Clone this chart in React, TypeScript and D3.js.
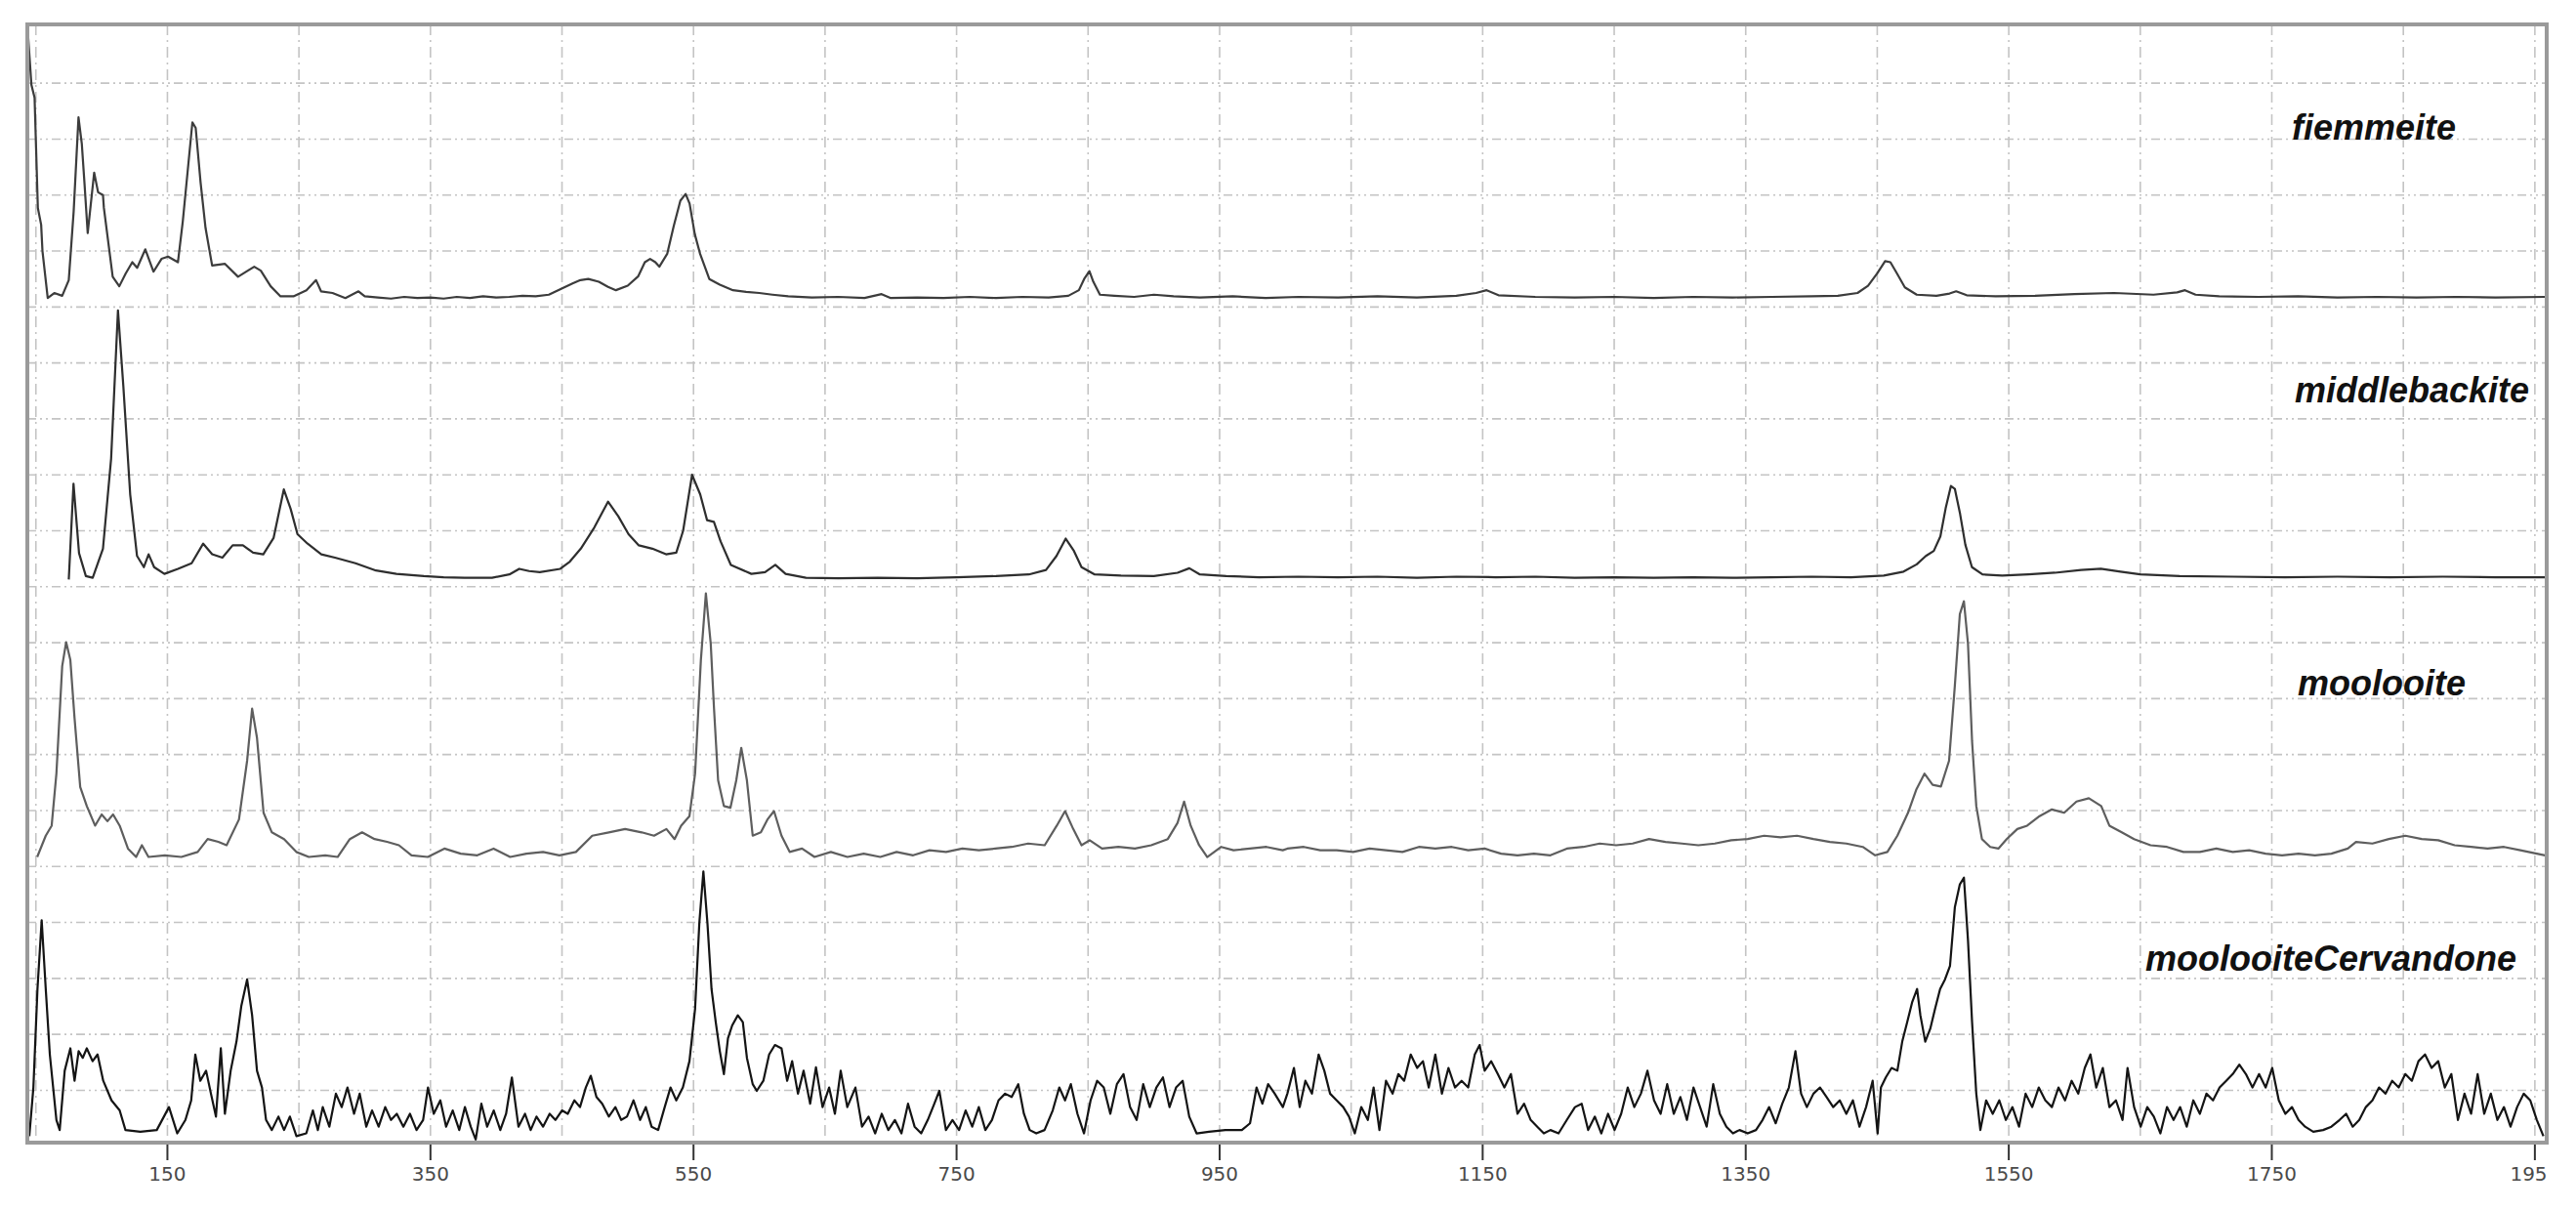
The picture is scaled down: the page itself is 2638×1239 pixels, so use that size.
import React from "react";
import * as d3 from "d3";

type Pt = [number, number];

const seriesNames = ["fiemmeite", "middlebackite", "moolooite", "moolooiteCervandone"];

const xGridValues = [50,150,250,350,450,550,650,750,850,950,1050,1150,1250,1350,1450,1550,1650,1750,1850,1950];
const xTickValues = [150,350,550,750,950,1150,1350,1550,1750,1950];
const xTickLabels = ["150","350","550","750","950","1150","1350","1550","1750","1950"];
const yGridValues = [1,2,3,4,5,6,7,8,9,10,11,12,13,14,15,16,17,18,19];

const fiemmeite: Pt[] = [
[44,19.87],[46.6,18.97],[49,18.74],[51.5,16.77],[54,16.47],[55,16.0],[59,15.16],[64,15.25],[70,15.2],[75,15.48],[78.7,16.7],[82.4,18.39],[84.9,17.92],[86.9,17.23],[89.4,16.32],[94.3,17.4],[97.3,17.05],[101,17.0],[101.7,16.77],[108.4,15.54],[113.4,15.37],[118.3,15.6],[123.3,15.8],[127,15.7],[133.2,16.03],[139.4,15.63],[145.5,15.86],[150.5,15.9],[158,15.8],[161.7,16.53],[169,18.3],[171.5,18.2],[175.2,17.23],[179,16.41],[184,15.74],[193.8,15.77],[203.7,15.54],[216,15.72],[221,15.65],[228.5,15.37],[236,15.19],[245.8,15.19],[255.7,15.3],[263,15.48],[266.8,15.28],[275.5,15.25],[285.3,15.16],[290.3,15.22],[295.3,15.28],[300,15.19],
[310,15.17],[320,15.15],[330,15.18],[340,15.16],[350,15.17],[360,15.15],[370,15.18],[380,15.16],[390,15.19],[400,15.17],[410,15.18],[420,15.2],[430,15.19],[440,15.22],[449,15.32],[458,15.42],[464,15.48],[470,15.5],[478,15.45],[485,15.36],[491,15.3],[500,15.38],[508,15.55],[513,15.8],[517,15.86],[521,15.8],[524,15.72],[530,15.95],[535,16.45],[540,16.9],[544,17.02],[547,16.85],[551,16.3],[555,15.95],[562,15.5],[570,15.4],[580,15.3],[590,15.27],[600,15.25],[610,15.22],[622,15.19],[640,15.17],[660,15.18],[680,15.16],[693,15.23],[700,15.16],[720,15.17],[740,15.16],[760,15.18],[780,15.16],[800,15.18],[820,15.17],[835,15.2],[843,15.3],[847,15.5],[851,15.64],[854,15.45],[859,15.22],[870,15.2],[885,15.18],[900,15.22],[915,15.19],[935,15.17],[960,15.19],[985,15.16],[1010,15.18],[1040,15.17],[1070,15.19],[1100,15.17],[1130,15.2],[1145,15.25],[1153,15.3],[1162,15.21],[1190,15.18],[1220,15.17],[1250,15.18],[1280,15.16],[1310,15.18],[1340,15.17],[1370,15.18],[1400,15.19],[1420,15.2],[1435,15.25],[1443,15.38],[1450,15.6],[1456,15.82],[1460,15.8],[1465,15.6],[1471,15.35],[1480,15.22],[1495,15.2],[1505,15.24],[1510,15.28],[1518,15.21],[1540,15.19],[1570,15.2],[1600,15.23],[1630,15.25],[1660,15.22],[1678,15.26],[1684,15.3],[1692,15.22],[1710,15.19],[1740,15.18],[1770,15.19],[1800,15.17],[1830,15.18],[1860,15.17],[1890,15.18],[1920,15.17],[1958,15.18]
];

const middlebackite: Pt[] = [
[75,10.13],[78.6,11.84],[82.8,10.6],[88,10.19],[93.2,10.16],[101,10.68],[107.2,12.29],[112.4,14.94],[116.5,13.58],[121.7,11.65],[126.9,10.55],[132.1,10.35],[135.7,10.58],[139.9,10.35],[147.7,10.23],[158,10.32],[168.4,10.42],[177.2,10.77],[184,10.58],[191.8,10.52],[199.6,10.74],[207.4,10.74],[215.1,10.61],[222.9,10.58],[230.7,10.87],[238.5,11.74],[243.7,11.39],[248.9,10.94],[256.6,10.77],[267,10.58],[277.4,10.52],[293,10.42],[308.6,10.29],[324.1,10.23],[344.9,10.19],[360,10.17],[376,10.16],[396.8,10.16],[410,10.22],[417.5,10.32],[425,10.28],[433.1,10.26],[448.7,10.32],[456,10.45],[464.3,10.68],[474.6,11.06],[485,11.52],[492.8,11.26],[500.6,10.94],[508.4,10.74],[518.7,10.68],[529.1,10.58],[536.9,10.61],[542.1,11.0],[548.9,12.0],[555.1,11.65],[560.3,11.19],[565.5,11.16],[570.6,10.81],[578.4,10.39],[594,10.23],[604.4,10.26],[612.2,10.39],[620,10.23],[635.5,10.16],[660,10.15],[690,10.16],[720,10.15],[750,10.17],[780,10.19],[805,10.22],[818,10.3],[826,10.55],[833,10.86],[839,10.65],[845,10.35],[855,10.22],[875,10.2],[900,10.19],[918,10.25],[927,10.33],[935,10.22],[955,10.19],[980,10.17],[1010,10.18],[1040,10.17],[1070,10.18],[1100,10.16],[1130,10.18],[1160,10.17],[1190,10.18],[1220,10.16],[1250,10.17],[1280,10.16],[1310,10.17],[1340,10.16],[1370,10.17],[1400,10.18],[1430,10.17],[1455,10.2],[1470,10.27],[1480,10.4],[1487,10.55],[1493,10.64],[1498,10.9],[1502,11.4],[1506,11.8],[1509,11.75],[1513,11.3],[1517,10.75],[1522,10.35],[1530,10.22],[1545,10.2],[1565,10.22],[1585,10.25],[1605,10.3],[1620,10.32],[1635,10.27],[1650,10.22],[1680,10.19],[1720,10.18],[1760,10.17],[1800,10.18],[1840,10.17],[1880,10.18],[1920,10.17],[1958,10.17]
];

const moolooite: Pt[] = [
[51,5.17],[57.5,5.55],[62,5.73],[65.6,6.66],[70,8.58],[73,9.01],[76.2,8.69],[79.4,7.65],[83.7,6.42],[88.7,6.08],[95,5.73],[100,5.93],[104.4,5.81],[108.7,5.93],[113.7,5.73],[120,5.32],[126.2,5.17],[130.6,5.38],[135.6,5.17],[148,5.2],[160.6,5.17],[173,5.26],[180.6,5.49],[188.7,5.44],[195,5.38],[204.4,5.84],[210.6,6.89],[214.4,7.82],[218.1,7.3],[223.1,5.96],[229.4,5.61],[238.7,5.49],[248,5.26],[257.5,5.17],[270,5.2],[279.4,5.17],[288.7,5.49],[298,5.61],[307.5,5.49],[317,5.44],[326,5.38],[335.6,5.2],[348,5.17],[360.6,5.32],[373,5.23],[385.6,5.2],[398,5.32],[410.6,5.17],[423,5.23],[435.6,5.26],[448,5.2],[460.6,5.26],[473,5.55],[485.6,5.61],[498,5.67],[510.6,5.61],[520,5.55],[529.4,5.67],[535.6,5.49],[540.6,5.73],[546.9,5.9],[551.2,6.66],[555.6,8.69],[559.4,9.88],[563.1,8.98],[565.6,7.82],[568.7,6.54],[573.1,6.08],[578.1,6.05],[582.5,6.54],[586.3,7.12],[590.6,6.54],[595,5.55],[601.2,5.61],[606.2,5.84],[611.2,5.99],[616.9,5.55],[623.1,5.26],[632.5,5.32],[642,5.17],[654.4,5.26],[667,5.17],[679.4,5.23],[692,5.17],[704.4,5.26],[717,5.2],[729.4,5.29],[742,5.26],[754.4,5.32],[767,5.29],[779.4,5.32],[792,5.35],[804.4,5.41],[817,5.38],[826.2,5.73],[832.5,5.99],[838.7,5.67],[845,5.38],[851.2,5.47],[860.6,5.32],[873,5.35],[885.6,5.32],[898,5.38],[910.6,5.49],[918,5.78],[923,6.16],[928,5.73],[934.4,5.38],[940.6,5.17],[951.2,5.35],[960.6,5.29],[973,5.32],[985.6,5.35],[998,5.29],
[1001.5,5.32],[1014,5.35],[1026.5,5.29],[1039,5.29],[1051.5,5.26],[1064,5.32],[1076.5,5.29],[1089,5.26],[1101.5,5.35],[1114,5.32],[1126.5,5.35],[1139,5.29],[1151.5,5.32],[1164,5.23],[1176.5,5.2],[1189,5.23],[1201.5,5.2],[1214,5.32],[1226.5,5.35],[1239,5.41],[1251.5,5.38],[1264,5.41],[1276.5,5.49],[1289,5.44],[1301.5,5.41],[1314,5.38],[1326.5,5.41],[1339,5.47],[1351.5,5.49],[1364,5.55],[1376.5,5.52],[1389,5.55],[1401.5,5.49],[1414,5.44],[1426.5,5.41],[1439,5.35],[1448.4,5.2],[1457.7,5.26],[1465.3,5.55],[1473.4,5.96],[1479.6,6.37],[1485.9,6.66],[1492.1,6.46],[1498.4,6.43],[1504.6,6.89],[1509,8.23],[1512.8,9.51],[1515.9,9.74],[1519,8.98],[1522.1,7.24],[1525.3,6.08],[1529.6,5.49],[1535.9,5.35],[1542.1,5.32],[1548.4,5.49],[1556.5,5.67],[1564,5.73],[1573.4,5.9],[1582.8,6.02],[1592.1,5.96],[1601.5,6.16],[1610.9,6.22],[1620.3,6.08],[1626.5,5.73],[1635.9,5.61],[1645.3,5.49],[1657.8,5.38],[1670.3,5.35],[1682.8,5.26],[1695.3,5.26],[1707.8,5.32],[1720.3,5.26],[1732.8,5.29],[1745.3,5.23],[1757.8,5.2],[1770.3,5.23],[1782.8,5.2],[1795.3,5.23],[1807.8,5.32],[1814,5.44],[1826.5,5.41],[1839,5.49],[1851.5,5.55],[1864,5.49],[1876.5,5.47],[1889,5.38],[1901.5,5.35],[1914,5.32],[1926.5,5.35],[1939,5.29],[1951.5,5.23],[1957.7,5.2]
];

const cervandone: Pt[] = [
[45,0.18],[48.1,1.05],[51.2,2.81],[54.4,4.04],[57.5,2.81],[60.6,1.64],[65.6,0.47],[68.1,0.29],[71.9,1.35],[76.2,1.75],[79.4,1.17],[82.5,1.7],[85.6,1.58],[88.7,1.75],[93.1,1.52],[96.9,1.64],[101.2,1.17],[107.5,0.82],[113.7,0.64],[118.1,0.29],[129.4,0.26],[141.9,0.29],[151.2,0.7],[157.5,0.23],[163.7,0.47],[168.1,0.82],[171.2,1.64],[175,1.17],[179.4,1.35],[183.1,0.94],[186.9,0.53],[190.6,1.75],[193.7,0.58],[198.1,1.35],[202.5,1.87],[206.2,2.51],[210.6,2.98],[214.4,2.34],[218.1,1.35],[221.9,1.05],[225,0.47],[229.4,0.29],[234.4,0.53],[238.7,0.29],[243.1,0.53],[248.1,0.18],[255.6,0.23],[260.6,0.64],[264.4,0.29],[268.1,0.7],[273.1,0.35],[278.1,0.94],[282.5,0.7],[286.9,1.05],[291.9,0.58],[296.2,0.94],[301.2,0.35],[305.6,0.64],[310.6,0.35],[315.6,0.7],[320,0.47],[324.4,0.58],[329.4,0.35],[334.4,0.58],[339.4,0.29],[344.4,0.47],[348.1,1.05],[352.5,0.58],[357.5,0.82],[361.9,0.35],[366.9,0.64],[371.9,0.29],[376.2,0.7],[380.6,0.35],[384.4,0.12],[388.7,0.76],[393.1,0.35],[398.1,0.64],[403.1,0.29],[407.5,0.58],[411.9,1.23],[416.9,0.35],[421.9,0.58],[426.2,0.29],[430.6,0.53],[435.6,0.35],[440.6,0.58],[445,0.47],[450,0.64],[454.4,0.58],[459.4,0.82],[463.7,0.7],[468.1,1.05],[471.9,1.26],[476.2,0.88],[480.6,0.76],[485.6,0.53],[490.6,0.7],[495,0.47],[499.4,0.53],[504.4,0.82],[509.4,0.47],[513.7,0.7],[518.1,0.35],[523.1,0.29],[528.1,0.7],[532.5,1.05],[536.9,0.82],[541.9,1.05],[546.9,1.52],[551.2,2.46],[554.4,3.98],[557.5,4.91],[560.6,3.98],[563.7,2.81],[566.9,2.22],[570,1.7],[573.1,1.29],[576.2,1.93],[579.4,2.16],[583.7,2.34],[587.5,2.22],[590.6,1.58],[595,1.11],[598.1,0.99],[603.1,1.17],[607.5,1.64],[611.9,1.81],[616.9,1.75],[621.2,1.17],[625,1.52],[629.4,0.94],[633.7,1.35],[638.7,0.76],[643.1,1.41],[648.1,0.7],[653.1,1.05],[657.5,0.58],[661.9,1.35],[666.9,0.7],[673.1,1.05],[678.1,0.35],[683.1,0.53],[688.1,0.23],[693.1,0.58],[698.1,0.29],[703.1,0.47],[708.1,0.23],[713.1,0.76],[718.1,0.35],[723.1,0.23],[728.1,0.47],[733.1,0.76],[736.9,0.99],[741.9,0.29],[746.9,0.47],[751.9,0.29],[756.9,0.64],[761.9,0.35],[766.9,0.7],[771.9,0.29],[776.9,0.47],[781.9,0.82],[786.9,0.94],[791.9,0.88],[796.9,1.11],[801.2,0.58],[805.6,0.29],[810.6,0.23],[816.9,0.29],[823.1,0.64],[828.1,1.05],[832.5,0.82],[836.9,1.11],[841.9,0.58],[846.9,0.23],[851.9,0.82],[856.9,1.17],[861.9,1.05],[866.9,0.58],[871.9,1.11],[876.9,1.29],[881.9,0.7],[886.9,0.47],[891.9,1.11],[896.9,0.7],[901.9,1.05],[906.9,1.23],[911.9,0.7],[916.9,1.05],[921.9,1.17],[926.9,0.53],[932.5,0.23],[941.9,0.26],[954.4,0.29],[966.9,0.29],[973.1,0.41],[978.1,1.05],[982.5,0.76],[986.9,1.11],[991.9,0.94],[998.1,0.7],
[1001.5,0.94],[1006.5,1.4],[1010.9,0.7],[1015.2,1.17],[1020.2,0.94],[1025.3,1.64],[1029.6,1.35],[1034,0.94],[1039,0.82],[1044,0.7],[1048.4,0.53],[1052.8,0.23],[1057.7,0.7],[1062.7,0.47],[1067.1,1.05],[1071.5,0.29],[1076.5,1.17],[1081.5,0.94],[1085.9,1.29],[1090.3,1.17],[1095.3,1.64],[1100.2,1.4],[1104.6,1.52],[1109,1.05],[1114,1.64],[1119,0.94],[1124,1.4],[1129,1.05],[1134,1.17],[1139,1.05],[1144,1.64],[1147.7,1.81],[1151.5,1.35],[1156.5,1.52],[1161.5,1.29],[1166.5,1.05],[1171.5,1.29],[1176.5,0.58],[1181.5,0.76],[1186.5,0.47],[1191.5,0.35],[1196.5,0.23],[1201.5,0.29],[1207.7,0.23],[1214,0.47],[1220.2,0.7],[1225.3,0.76],[1230.2,0.29],[1235.3,0.53],[1240.2,0.23],[1245.3,0.58],[1250.3,0.29],[1255.3,0.58],[1260.3,1.05],[1265.3,0.7],[1270.3,0.94],[1275.3,1.35],[1280.3,0.82],[1285.3,0.58],[1290.3,1.11],[1295.3,0.58],[1300.3,0.88],[1305.3,0.47],[1310.3,1.05],[1315.3,0.7],[1320.3,0.35],[1325.3,1.11],[1330.3,0.58],[1335.3,0.35],[1340.3,0.23],[1345.3,0.29],[1351.5,0.23],[1357.8,0.29],[1362.8,0.47],[1367.8,0.7],[1372.8,0.41],[1377.8,0.76],[1382.8,1.05],[1387.8,1.7],[1392.1,0.94],[1396.5,0.7],[1401.5,0.94],[1406.5,1.05],[1411.5,0.88],[1416.5,0.7],[1421.5,0.82],[1426.5,0.58],[1431.5,0.82],[1436.5,0.35],[1441.5,0.7],[1446.5,1.17],[1450.3,0.23],[1452.8,1.05],[1456.5,1.23],[1460.9,1.4],[1465.3,1.35],[1469,1.87],[1472.8,2.22],[1476.5,2.57],[1480.3,2.81],[1482.8,2.34],[1486.5,1.87],[1490.3,2.1],[1494,2.46],[1497.8,2.81],[1501.5,2.98],[1505.3,3.22],[1509,4.27],[1512.8,4.68],[1515.9,4.8],[1519,3.68],[1522.1,2.22],[1525.3,0.94],[1528.4,0.29],[1532.8,0.82],[1537.8,0.58],[1542.8,0.82],[1547.8,0.47],[1552.8,0.7],[1557.8,0.35],[1562.8,0.94],[1567.8,0.7],[1572.8,1.05],[1577.8,0.82],[1582.8,0.7],[1587.8,1.05],[1592.8,0.82],[1597.8,1.17],[1602.8,0.94],[1607.8,1.4],[1612.1,1.64],[1616.5,1.05],[1621.5,1.4],[1626.5,0.7],[1631.5,0.82],[1636.5,0.47],[1640.3,1.4],[1645.3,0.7],[1650.3,0.35],[1655.3,0.7],[1660.3,0.53],[1665.3,0.23],[1670.3,0.7],[1675.3,0.47],[1680.3,0.7],[1685.3,0.35],[1690.3,0.82],[1695.3,0.58],[1700.3,0.94],[1705.3,0.82],[1710.3,1.05],[1715.3,1.17],[1720.3,1.29],[1725.3,1.46],[1730.3,1.29],[1735.3,1.05],[1740.3,1.29],[1745.3,1.05],[1750.3,1.4],[1755.3,0.82],[1760.3,0.58],[1765.3,0.7],[1770.3,0.47],[1775.3,0.35],[1781.5,0.26],[1789,0.29],[1795.3,0.35],[1801.5,0.47],[1806.5,0.58],[1811.5,0.35],[1816.5,0.47],[1821.5,0.7],[1826.5,0.82],[1831.5,1.05],[1836.5,0.94],[1841.5,1.17],[1846.5,1.05],[1851.5,1.29],[1856.5,1.17],[1861.5,1.52],[1866.5,1.64],[1871.5,1.4],[1876.5,1.52],[1881.5,1.05],[1886.5,1.29],[1891.5,0.47],[1896.5,0.94],[1901.5,0.58],[1906.5,1.29],[1911.5,0.58],[1916.5,0.94],[1921.5,0.47],[1926.5,0.7],[1931.5,0.35],[1936.5,0.7],[1941.5,0.94],[1946.5,0.82],[1951.5,0.47],[1956.5,0.18]
];

const seriesData: Pt[][] = [fiemmeite, middlebackite, moolooite, cervandone];
const seriesColors = ["#3c3c3c", "#2e2e2e", "#5e5e5e", "#141414"];

const W = 2638, H = 1239;
const L = 28, R = 2608, T = 25, B = 1170;

const labelLayout = [
  { x: 2347, y: 143, anchor: "start" },
  { x: 2590, y: 412, anchor: "end" },
  { x: 2353, y: 712, anchor: "start" },
  { x: 2197, y: 994, anchor: "start" },
];

export default function App() {
  const x = d3.scaleLinear().domain([43.5, 1959]).range([L, R]);
  const y = d3.scaleLinear().domain([0.065, 20.05]).range([B, T]);
  const line = d3.line<Pt>().x((d) => x(d[0])).y((d) => y(d[1]));

  return (
    <svg width={W} height={H} style={{ position: "absolute", left: 0, top: 0, background: "#fff" }}
      fontFamily="'Liberation Sans', Arial, sans-serif">
      <defs>
        <clipPath id="plotClip"><rect x={L} y={T} width={R - L} height={B - T} /></clipPath>
        <clipPath id="labelClip"><rect x={0} y={B} width={R + 1} height={H - B} /></clipPath>
      </defs>
      <rect x={0} y={0} width={W} height={H} fill="#fff" />
      <g>
        {yGridValues.map((v) => (
          <line key={"h" + v} x1={L} x2={R} y1={y(v)} y2={y(v)} stroke="#c4c4c4" strokeWidth={1.6}
            strokeDasharray="9,4,2,4,2,4" />
        ))}
        {xGridValues.map((v) => (
          <line key={"v" + v} x1={x(v)} x2={x(v)} y1={T} y2={B} stroke="#c4c4c4" strokeWidth={1.6}
            strokeDasharray="11,5,2,5" />
        ))}
      </g>
      <g clipPath="url(#plotClip)" fill="none" strokeLinejoin="round">
        {seriesData.map((d, i) => (
          <path key={seriesNames[i]} d={line(d) || ""} stroke={seriesColors[i]} strokeWidth={2.2} />
        ))}
      </g>
      <rect x={L} y={T} width={R - L} height={B - T} fill="none" stroke="#9a9a9a" strokeWidth={4} />
      <g>
        {xTickValues.map((v) => (
          <line key={"t" + v} x1={x(v)} x2={x(v)} y1={B + 2} y2={B + 18} stroke="#333" strokeWidth={2} />
        ))}
      </g>
      <g clipPath="url(#labelClip)">
        {xTickValues.map((v, i) => (
          <text key={"l" + v} x={x(v)} y={1209} textAnchor="middle" fontSize={20}
            fontFamily="'DejaVu Sans', Verdana, sans-serif" fill="#4a4a4a">{xTickLabels[i]}</text>
        ))}
      </g>
      <g>
        {seriesNames.map((n, i) => (
          <text key={"n" + n} x={labelLayout[i].x} y={labelLayout[i].y}
            textAnchor={labelLayout[i].anchor as any} fontSize={36} fontWeight="bold" fontStyle="italic"
            fill="#111">{n}</text>
        ))}
      </g>
    </svg>
  );
}
